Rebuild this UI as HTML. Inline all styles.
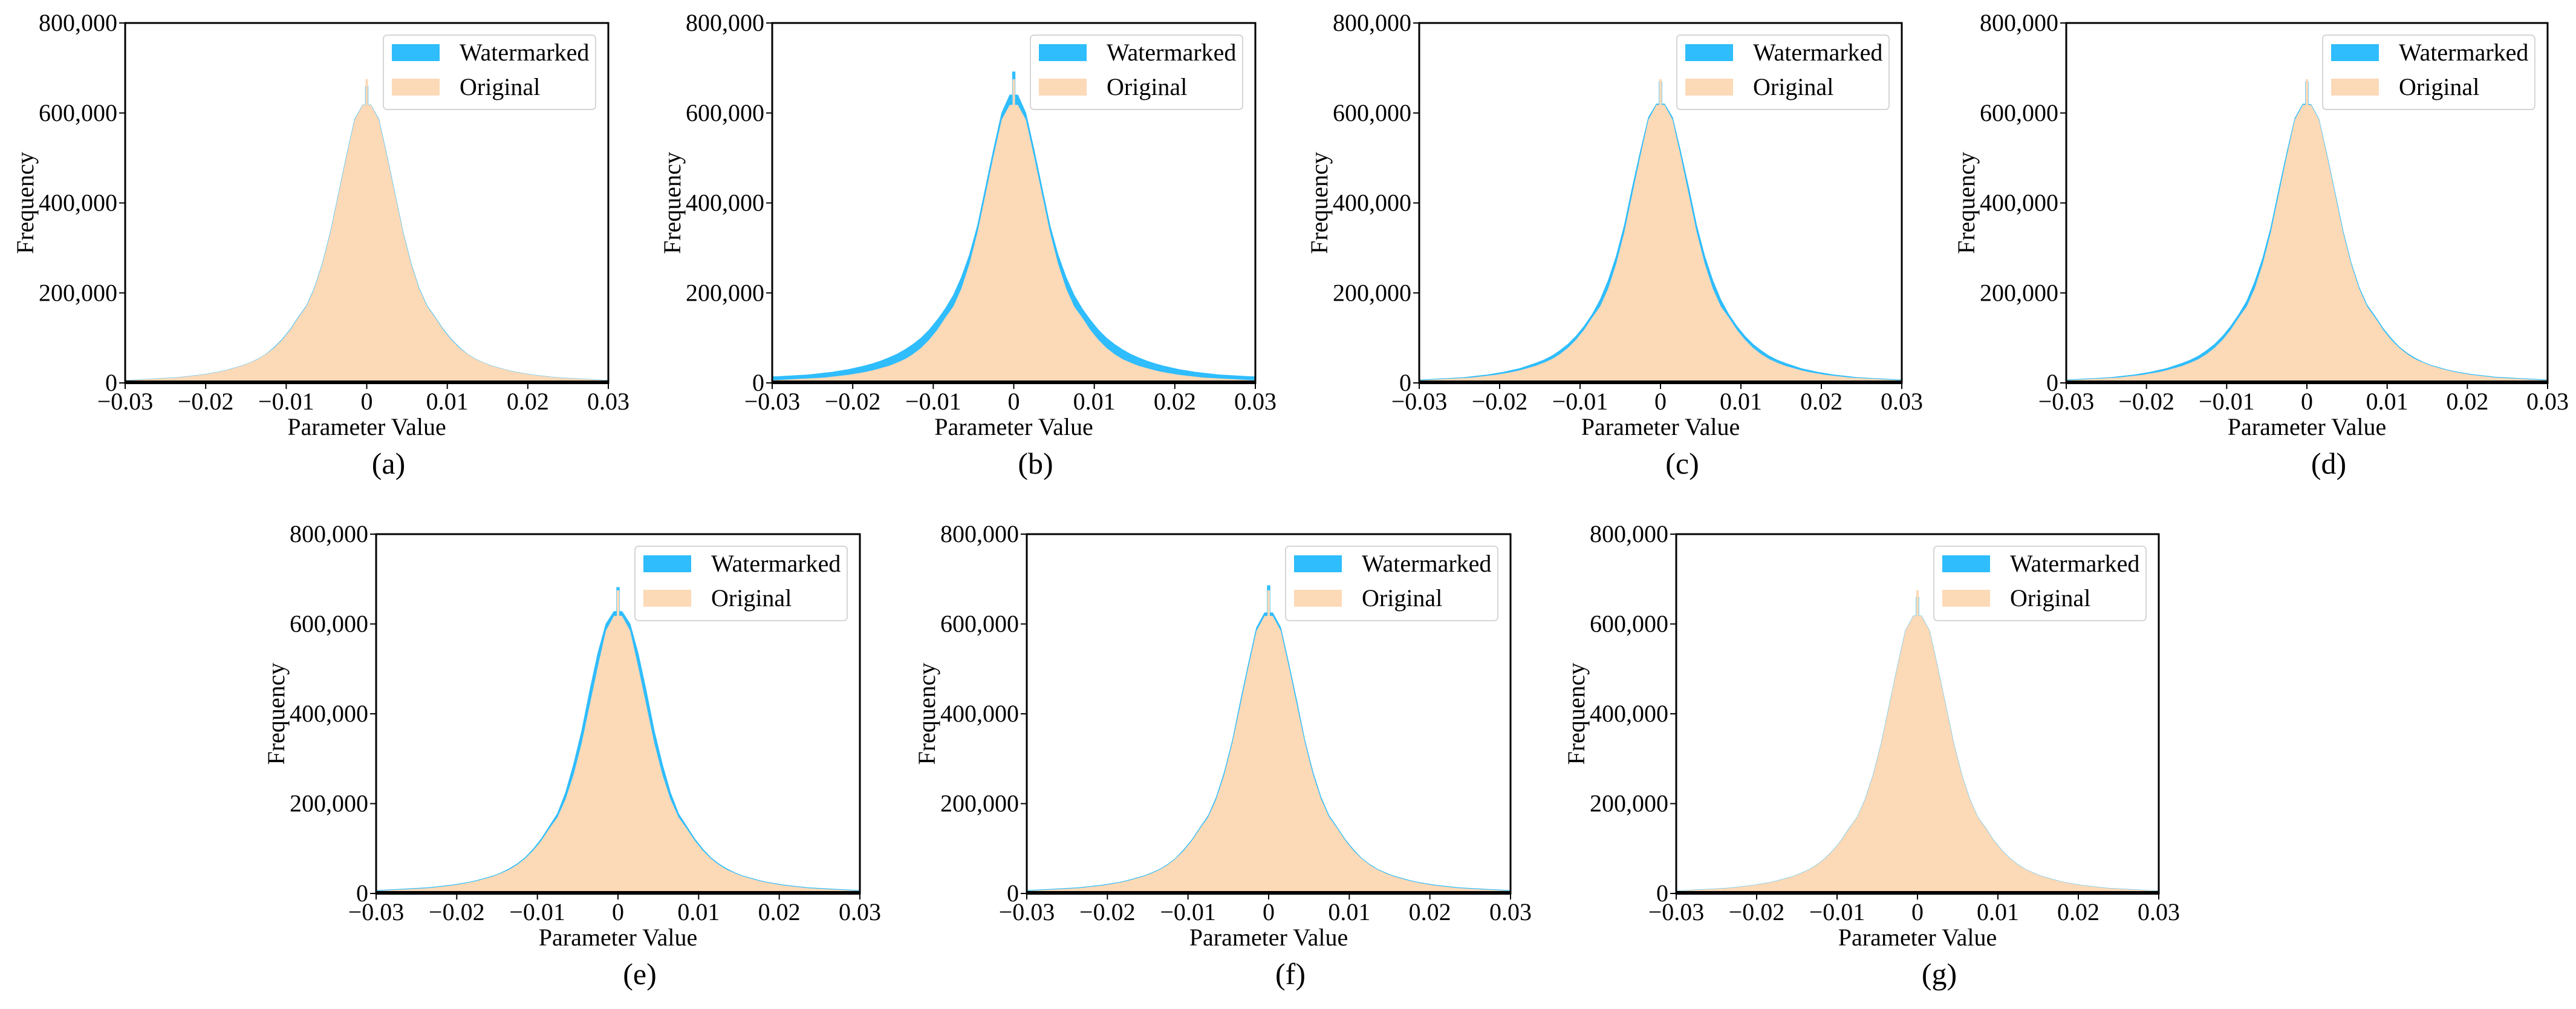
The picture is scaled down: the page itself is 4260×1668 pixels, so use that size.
<!DOCTYPE html>
<html><head><meta charset="utf-8"><style>
html,body{margin:0;padding:0;background:#fff;}
svg{display:block;font-family:"Liberation Serif","Times New Roman",serif;}
</style></head><body>
<svg id="fig" width="4260" height="1668" viewBox="0 0 4260 1668" xmlns="http://www.w3.org/2000/svg"></svg>
<script>
const binEdgesMin = -0.03;
const binWidth = 0.001;
const xTicks = [-0.03, -0.02, -0.01, 0, 0.01, 0.02, 0.03];
const xTickLabels = ["\u22120.03","\u22120.02","\u22120.01","0","0.01","0.02","0.03"];
const yTicks = [0, 200000, 400000, 600000, 800000];
const yTickLabels = ["0","200,000","400,000","600,000","800,000"];
const panelLabels = ["(a)","(b)","(c)","(d)","(e)","(f)","(g)"];
// counts in thousands, 60 bins from -0.03 to 0.03
const original = [6,7,8,9,10,11,12,14,16,18,21,24,28,33,38,45,53,64,78,96,118,145,170,210,265,335,420,505,585,618,618,585,505,420,335,265,210,170,145,118,96,78,64,53,45,38,33,28,24,21,18,16,14,12,11,10,9,8,7,6];
const wmA = [6,7,8,9,10,11,12,14,16,18,21,24,28,33,38,45,53,64,79,97,119,146,171,211,266,336,421,506,586,618,618,586,506,421,336,266,211,171,146,119,97,79,64,53,45,38,33,28,24,21,18,16,14,12,11,10,9,8,7,6];
const wmB = [14,15,16,17,18,20,22,24,27,30,34,38,43,49,56,64,74,86,100,118,140,165,195,235,285,350,435,520,600,640,640,600,520,435,350,285,235,195,165,140,118,100,86,74,64,56,49,43,38,34,30,27,24,22,20,18,17,16,15,14];
const wmC = [7,8,9,10,11,12,14,16,18,21,24,28,32,38,44,51,60,72,86,104,126,152,185,228,282,350,435,515,590,620,620,590,515,435,350,282,228,185,152,126,104,86,72,60,51,44,38,32,28,24,21,18,16,14,12,11,10,9,8,7];
const wmD = [7,8,9,10,11,12,14,16,18,21,24,28,32,38,44,51,60,72,86,104,126,152,182,225,278,345,430,512,588,620,619,586,507,423,338,268,213,173,148,121,99,80,66,55,46,39,34,29,25,22,19,17,15,13,12,11,10,9,8,7];
const wmE = [7,8,9,10,11,12,13,15,17,19,22,25,29,34,39,46,55,66,80,99,122,150,178,225,288,362,452,535,600,628,628,600,535,452,362,288,225,178,150,122,99,80,66,55,46,39,34,29,25,22,19,17,15,13,12,11,10,9,8,7];
const wmF = [7,8,9,10,11,12,13,15,17,19,22,25,29,34,39,46,54,65,79,98,120,147,173,214,270,340,428,512,592,625,625,592,512,428,340,270,214,173,147,120,98,79,65,54,46,39,34,29,25,22,19,17,15,13,12,11,10,9,8,7];
const wmG = [6,7,8,9,10,11,12,14,16,18,21,24,28,33,38,45,53,64,78,96,118,145,170,210,265,335,420,505,585,618,618,585,505,420,335,265,210,170,145,118,96,78,64,53,45,38,33,28,24,21,18,16,14,12,11,10,9,8,7,6];
const watermarkedSeries = [wmA, wmB, wmC, wmD, wmE, wmF, wmG];
const originalSpike = 675;
const watermarkedSpikes = [660, 692, 670, 670, 682, 686, 660];

const NS = "http://www.w3.org/2000/svg";
const svg = document.getElementById("fig");
function mk(tag, attrs, parent){
  const e = document.createElementNS(NS, tag);
  for (const k in attrs) e.setAttribute(k, attrs[k]);
  (parent||svg).appendChild(e);
  return e;
}
const panels = [
  {l:207,t:38,w:799,h:595},{l:1277,t:38,w:799,h:595},{l:2347,t:38,w:798,h:595},{l:3417,t:38,w:796,h:595},
  {l:622,t:883,w:800,h:594},{l:1698,t:883,w:800,h:594},{l:2772,t:883,w:798,h:594}
];
panels.forEach((p, i) => {
  const g = mk("g", {});
  
  
  const xs = v => p.l + (v - (-0.03)) / 0.06 * p.w;
  const ys = v => p.t + p.h - v / 800000 * p.h;
  function histPath(arr){
    let d = "M" + xs(binEdgesMin) + "," + ys(0);
    d += " L" + xs(binEdgesMin) + "," + ys(arr[0]*1000);
    arr.forEach((c, k) => {
      const xc = xs(binEdgesMin + (k+0.5)*binWidth);
      d += " L" + xc + "," + ys(c*1000);
    });
    const xe = xs(binEdgesMin + arr.length*binWidth);
    d += " L" + xe + "," + ys(arr[arr.length-1]*1000) + " L" + xe + "," + ys(0) + " Z";
    return d;
  }
  const wm = mk("path", {d: histPath(watermarkedSeries[i]), fill:"#2fbdfd", stroke:"#2fbdfd", "stroke-width":1}, g);
  
  
  const ws = mk("rect", {x: xs(-0.0002), y: ys(watermarkedSpikes[i]*1000), width: xs(0.0002)-xs(-0.0002), height: ys(0)-ys(watermarkedSpikes[i]*1000), fill:"#2fbdfd"}, g);
  
  
  const og = mk("path", {d: histPath(original), fill:"#fcd9b7"}, g);
  
  
  const os = mk("rect", {x: xs(-0.00015), y: ys(originalSpike*1000), width: xs(0.00015)-xs(-0.00015), height: ys(0)-ys(originalSpike*1000), fill:"#fcd9b7"}, g);
  
  
  const bl = mk("rect", {x:p.l, y:p.t+p.h-4, width:p.w, height:6, fill:"#000"}, g);
  
  
  const fr = mk("rect", {x:p.l, y:p.t, width:p.w, height:p.h, fill:"none", stroke:"#000", "stroke-width":3}, g);
  
  
  xTicks.forEach((v, k) => {
    const x = xs(v);
    const tk = mk("line", {x1:x, x2:x, y1:p.t+p.h, y2:p.t+p.h+10, stroke:"#000", "stroke-width":2}, g);
    
    
    const tl = mk("text", {x:x, y:p.t+p.h+44, "font-size":40, "text-anchor":"middle"}, g);
    tl.textContent = xTickLabels[k];
    
    
  });
  yTicks.forEach((v, k) => {
    const y = ys(v);
    const tk = mk("line", {x1:p.l-10, x2:p.l, y1:y, y2:y, stroke:"#000", "stroke-width":2}, g);
    
    
    const tl = mk("text", {x:p.l-13, y:y+13, "font-size":40, "text-anchor":"end"}, g);
    tl.textContent = yTickLabels[k];
    
    
  });
  const xl = mk("text", {x:p.l+p.w/2, y:p.t+p.h+86, "font-size":40, "text-anchor":"middle"}, g);
  xl.textContent = "Parameter Value";
  
  
  const cy = p.t + p.h/2;
  const yl = mk("text", {x:p.l-152, y:cy, "font-size":40, "text-anchor":"middle", transform:"rotate(-90 "+(p.l-152)+" "+cy+")"}, g);
  yl.textContent = "Frequency";
  
  
  const pl = mk("text", {x:p.l+p.w/2+36, y:p.t+p.h+150, "font-size":50, "text-anchor":"middle"}, g);
  pl.textContent = panelLabels[i];
  
  
  const lg = mk("g", {}, g);
  
  
  const L = p.l + p.w - 372;
  mk("rect", {x:L, y:p.t+20, width:351, height:123, rx:6, fill:"#fff", "fill-opacity":0.85, stroke:"#d6d6d6", "stroke-width":2}, lg);
  const e1 = mk("rect", {x:L+14, y:p.t+35, width:79, height:28, fill:"#2fbdfd"}, lg);
  
  
  const t1 = mk("text", {x:L+126, y:p.t+62, "font-size":40}, lg);
  t1.textContent = "Watermarked";
  
  
  const e2 = mk("rect", {x:L+14, y:p.t+92, width:79, height:28, fill:"#fcd9b7"}, lg);
  
  
  const t2 = mk("text", {x:L+126, y:p.t+119, "font-size":40}, lg);
  t2.textContent = "Original";
  
  
});
</script>
</body></html>
